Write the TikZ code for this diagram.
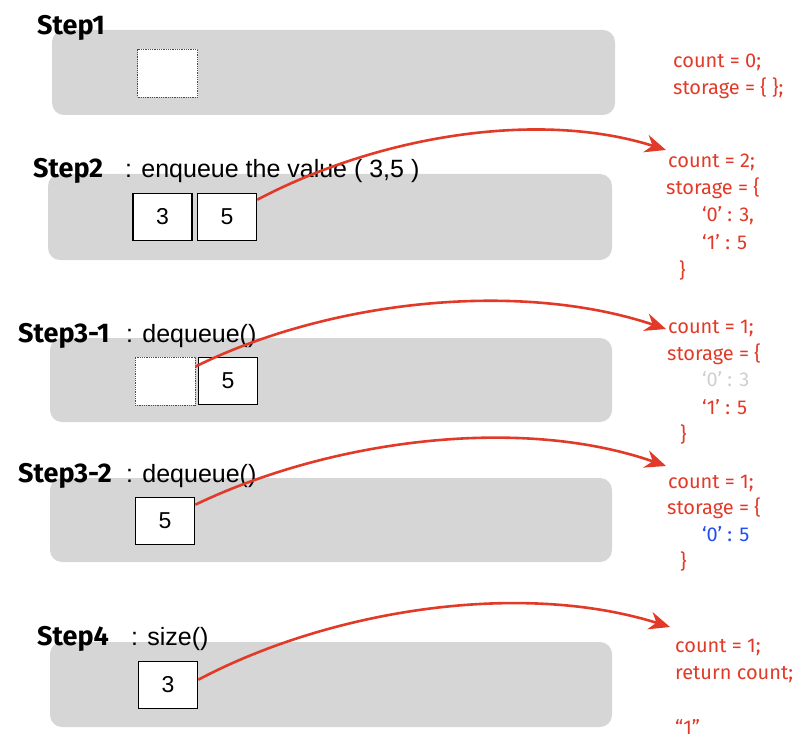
\documentclass[tikz,border=0pt]{standalone}
\usepackage{fontspec}
\setmainfont{Liberation Sans}
\newfontfamily\comic{Fira Sans}
\usetikzlibrary{arrows.meta}
\definecolor{panelgray}{HTML}{D6D6D6}
\definecolor{codered}{HTML}{E23A28}
\definecolor{codegray}{HTML}{CFCFCF}
\definecolor{codeblue}{HTML}{1F4FF0}
\tikzset{
  panel/.style={fill=panelgray, draw=none, rounded corners=12pt},
  cell/.style={draw=black, line width=1.6pt, fill=white, minimum width=59pt, minimum height=47pt, inner sep=0pt, font=\fontsize{23}{27}\selectfont},
  emptycell/.style={draw=black!70, densely dotted, line width=0.8pt, fill=white, minimum width=60pt, minimum height=48pt, inner sep=0pt},
  steplbl/.style={anchor=base west, inner sep=0pt, font=\comic\bfseries\fontsize{27}{30}\selectfont},
  oplbl/.style={anchor=base west, inner sep=0pt, font=\fontsize{25}{29}\selectfont},
  code/.style={anchor=base west, inner sep=0pt, text=codered, font=\comic\fontsize{20}{24}\selectfont},
  flow/.style={draw=codered, line width=2.6pt, -{Stealth[length=21pt,width=18pt]}},
}
\begin{document}
\begin{tikzpicture}[x=1pt,y=-1pt]
\useasboundingbox (0,0) rectangle (800,746);
% panels
\fill[panel] (52,30) rectangle (615,115);
\fill[panel] (48,174) rectangle (612,260);
\fill[panel] (50,338) rectangle (612,422);
\fill[panel] (50,478) rectangle (612,562);
\fill[panel] (50,642) rectangle (612,727);
% step labels
\node[steplbl] (s1) at (37,35) {Step1};
\node[steplbl] (s2) at (33,178) {Step2};
\node[oplbl] (o2) at (125,178) {: enqueue the value ( 3,5 )};
\node[steplbl] (s31) at (18,342) {Step3-1};
\node[oplbl] (o31) at (126,342) {: dequeue()};
\node[steplbl] (s32) at (18,482) {Step3-2};
\node[oplbl] (o32) at (126,482) {: dequeue()};
\node[steplbl] (s4) at (37,645) {Step4};
\node[oplbl] (o4) at (131,645) {: size()};
% cells
\node[emptycell] (e1) at (167.5,73) {};
\node[cell] (c23) at (162.5,217) {3};
\node[cell] (c25) at (227,217) {5};
\node[emptycell] (e31) at (165,381) {};
\node[cell] (c315) at (228,381) {5};
\node[cell] (c325) at (165,521) {5};
\node[cell] (c43) at (168,685) {3};
% code blocks
\node[code] (k1a) at (673,68) {count = 0;};
\node[code] (k1b) at (673,95) {storage = \{ \};};
\node[code] (k2a) at (668,168) {count = 2;};
\node[code] (k2b) at (666,195) {storage = \{};
\node[code] (k2c) at (702,222) {‘0’ : 3,};
\node[code] (k2d) at (702,249) {‘1’ : 5};
\node[code] (k2e) at (679,277) {\}};
\node[code] (k3a) at (668,333) {count = 1;};
\node[code] (k3b) at (667,360) {storage = \{};
\node[code, text=codegray] (k3c) at (702,386) {‘0’ : 3};
\node[code] (k3d) at (702,414) {‘1’ : 5};
\node[code] (k3e) at (680,441) {\}};
\node[code] (k4a) at (668,488) {count = 1;};
\node[code] (k4b) at (667,514) {storage = \{};
\node[code, text=codeblue] (k4c) at (702,541) {‘0’ : 5};
\node[code] (k4d) at (680,568) {\}};
\node[code] (k5a) at (675,652) {count = 1;};
\node[code] (k5b) at (675,679) {return count;};
\node[code] (k5c) at (675,734) {“1”};
% arrow targets
\coordinate (t2) at (666,150);
\coordinate (t31) at (666,329);
\coordinate (t32) at (666,466);
\coordinate (t4) at (670,627);
% arrows
\draw[flow] ([yshift=-7pt]c25.north east) .. controls (380,135) and (540,110) .. (t2);
\draw[flow] ([yshift=-10pt]e31.north east) .. controls (330,300) and (520,280) .. (t31);
\draw[flow] ([yshift=-8pt]c325.north east) .. controls (330,440) and (520,415) .. (t32);
\draw[flow] ([yshift=-19pt]c43.north east) .. controls (330,610) and (520,580) .. (t4);
\end{tikzpicture}
\end{document}
